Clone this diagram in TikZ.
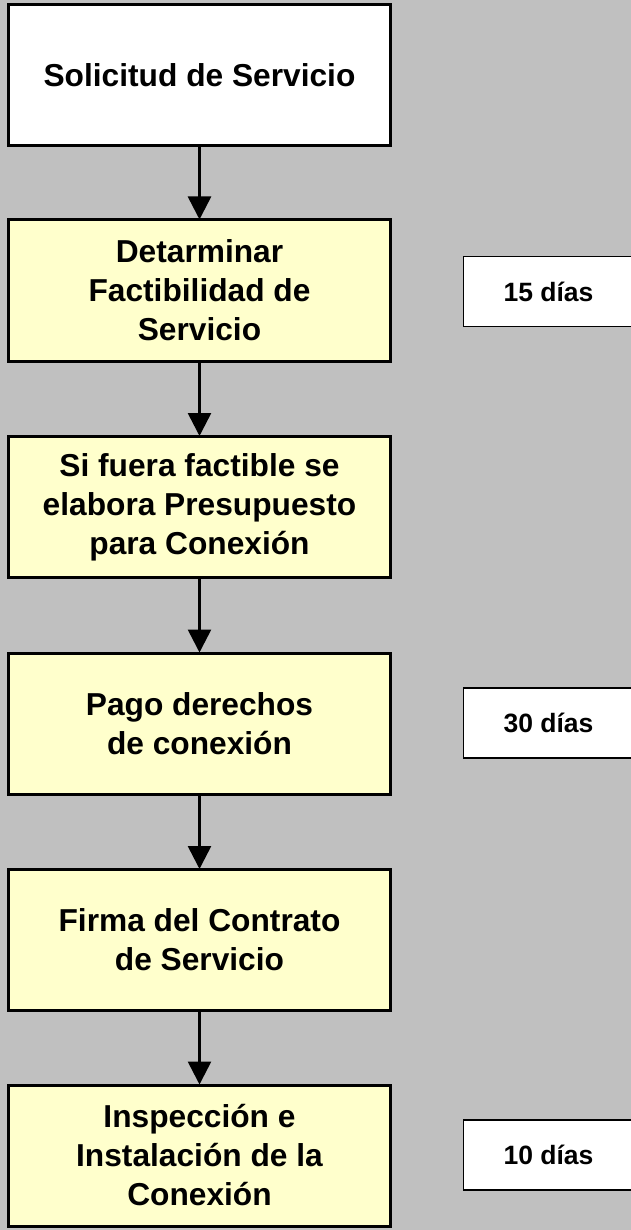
\documentclass[tikz,border=0pt]{standalone}
\usepackage{fontspec}
\setmainfont{Liberation Sans}
\usetikzlibrary{arrows.meta}
\definecolor{bggray}{HTML}{C0C0C0}
\definecolor{paleyellow}{HTML}{FFFFCC}
\tikzset{
  mainbox/.style={draw=black, line width=3pt, rectangle, minimum width=382pt, minimum height=141pt,
    align=center, inner sep=0pt, font=\fontsize{31.7}{39}\selectfont\bfseries},
  yellowbox/.style={mainbox, fill=paleyellow},
  whitebox/.style={mainbox, fill=white},
  daybox/.style={draw=black, line width=1.2pt, fill=white, rectangle, minimum width=170pt, minimum height=70pt,
    inner sep=0pt, font=\fontsize{26.5}{32}\selectfont\bfseries},
  flow/.style={line width=2.6pt, -{Triangle[width=23pt,length=23pt]}, shorten >=-1pt}
}
\begin{document}
\begin{tikzpicture}[x=1pt,y=-1pt]
\clip (0,0) rectangle (631,1230);
\fill[bggray] (0,0) rectangle (631,1230);
\node[whitebox]  (n1) at (199.5,75)    {Solicitud de Servicio};
\node[yellowbox] (n2) at (199.5,290.5) {Detarminar\\Factibilidad de\\Servicio};
\node[yellowbox] (n3) at (199.5,507)   {Si fuera factible se\\elabora Presupuesto\\para Conexión};
\node[yellowbox] (n4) at (199.5,723.5) {Pago derechos\\de conexión};
\node[yellowbox] (n5) at (199.5,940)   {Firma del Contrato\\de Servicio};
\node[yellowbox] (n6) at (199.5,1155.5){Inspección e\\Instalación de la\\Conexión};
\node[daybox] (d1) at (548.5,291.5) {15 días};
\node[daybox] (d2) at (548.5,723)   {30 días};
\node[daybox] (d3) at (548.5,1155)  {10 días};
\draw[flow] (n1.south) -- (n2.north);
\draw[flow] (n2.south) -- (n3.north);
\draw[flow] (n3.south) -- (n4.north);
\draw[flow] (n4.south) -- (n5.north);
\draw[flow] (n5.south) -- (n6.north);
\end{tikzpicture}
\end{document}
